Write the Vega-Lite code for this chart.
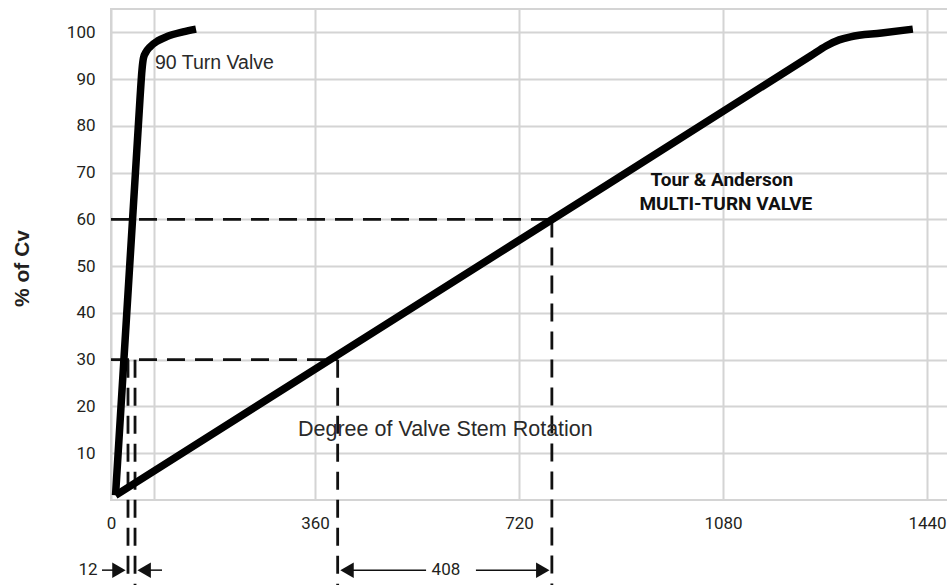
{
  "$schema": "https://vega.github.io/schema/vega-lite/v6.json",
  "width": 850,
  "height": 491,
  "autosize": "none",
  "padding": {"left": 111, "top": 9, "right": 0, "bottom": 85},
  "background": "white",
  "config": {
    "view": {"stroke": "#d4d4d4", "strokeWidth": 2},
    "font": "Liberation Sans"
  },
  "datasets": {
    "curves": [
      {"series": "90 Turn", "order": 1, "x": 8, "y": 1},
      {"series": "90 Turn", "order": 2, "x": 51, "y": 85.5},
      {"series": "90 Turn", "order": 3, "x": 54.7, "y": 92.0},
      {"series": "90 Turn", "order": 4, "x": 57.3, "y": 94.5},
      {"series": "90 Turn", "order": 5, "x": 61.8, "y": 95.8},
      {"series": "90 Turn", "order": 6, "x": 68.8, "y": 96.9},
      {"series": "90 Turn", "order": 7, "x": 82.9, "y": 98.2},
      {"series": "90 Turn", "order": 8, "x": 98.8, "y": 99.1},
      {"series": "90 Turn", "order": 9, "x": 127, "y": 100.1},
      {"series": "90 Turn", "order": 10, "x": 150, "y": 100.7},
      {"series": "Multi-Turn", "order": 1, "x": 8, "y": 1},
      {"series": "Multi-Turn", "order": 2, "x": 700, "y": 54.0},
      {"series": "Multi-Turn", "order": 3, "x": 1235, "y": 95.0},
      {"series": "Multi-Turn", "order": 4, "x": 1262, "y": 97.1},
      {"series": "Multi-Turn", "order": 5, "x": 1285, "y": 98.4},
      {"series": "Multi-Turn", "order": 6, "x": 1305, "y": 99.05},
      {"series": "Multi-Turn", "order": 7, "x": 1360, "y": 99.86},
      {"series": "Multi-Turn", "order": 8, "x": 1415, "y": 100.7}
    ],
    "dashed": [
      {"x": 0, "y": 60, "x2": 778, "y2": 60},
      {"x": 778, "y": 60, "x2": 778, "y2": -18.5},
      {"x": 0, "y": 30, "x2": 400, "y2": 30},
      {"x": 400, "y": 30, "x2": 400, "y2": -18.5},
      {"x": 42.4, "y": 30, "x2": 42.4, "y2": -18.5},
      {"x": 30, "y": 30, "x2": 30, "y2": -16}
    ],
    "shafts": [
      {"x": -15.9, "x2": 12.4, "y": -15},
      {"x": 61.8, "x2": 90, "y": -15},
      {"x": 422, "x2": 556, "y": -15},
      {"x": 644, "x2": 757, "y": -15}
    ],
    "heads": [
      {"x": 14.0, "y": -15, "dir": "right"},
      {"x": 58.5, "y": -15, "dir": "left"},
      {"x": 416.5, "y": -15, "dir": "left"},
      {"x": 762, "y": -15, "dir": "right"}
    ],
    "notes": [
      {"x": 77.6, "y": 93.5, "label": "90 Turn Valve"}
    ],
    "axisnote": [
      {"x": 330, "y": 15.0, "label": "Degree of Valve Stem Rotation"}
    ],
    "dims": [
      {"x": -40.6, "y": -15, "label": "12"},
      {"x": 591, "y": -15, "label": "408"}
    ],
    "brand": [
      {"x": 1078, "y": 68.4, "label": "Tour & Anderson"},
      {"x": 1085, "y": 63.3, "label": "MULTI-TURN VALVE"}
    ]
  },
  "encoding": {
    "x": {
      "field": "x", "type": "quantitative",
      "scale": {"domain": [0, 1500], "nice": false, "zero": false},
      "axis": {
        "values": [0, 76, 360, 720, 1080, 1440],
        "format": "d",
        "labelExpr": "datum.value == 76 ? '' : datum.label",
        "labelFlush": false,
        "grid": true, "gridColor": "#d4d4d4", "gridWidth": 2,
        "domain": false, "ticks": false,
        "labelPadding": 15, "labelFontSize": 17, "labelColor": "#231f20",
        "labelFont": "Roboto",
        "title": null
      }
    },
    "y": {
      "field": "y", "type": "quantitative",
      "scale": {"domain": [0, 105], "nice": false, "zero": false},
      "axis": {
        "values": [10, 20, 30, 40, 50, 60, 70, 80, 90, 100],
        "grid": true, "gridColor": "#d4d4d4", "gridWidth": 2,
        "domain": false, "ticks": false,
        "labelPadding": 16, "labelFontSize": 17, "labelColor": "#231f20",
        "labelFont": "Roboto",
        "title": "% of Cv",
        "titleFontSize": 21, "titleFontWeight": "bold", "titleColor": "#231f20",
        "titleX": -89, "titleY": 259, "titleAlign": "center", "titleBaseline": "middle", "titleAngle": -90
      }
    }
  },
  "layer": [
    {
      "data": {"name": "dashed"},
      "mark": {"type": "rule", "color": "#111", "strokeWidth": 2.8, "strokeDash": [18, 10]},
      "encoding": {
        "x2": {"field": "x2"},
        "y2": {"field": "y2"}
      }
    },
    {
      "data": {"name": "curves"},
      "mark": {"type": "line", "color": "black", "strokeWidth": 7.5, "interpolate": "monotone", "strokeJoin": "round"},
      "encoding": {
        "detail": {"field": "series"},
        "order": {"field": "order", "type": "quantitative"}
      }
    },
    {
      "data": {"name": "shafts"},
      "mark": {"type": "rule", "color": "#111", "strokeWidth": 1.5},
      "encoding": {
        "x2": {"field": "x2"}
      }
    },
    {
      "data": {"name": "heads"},
      "mark": {"type": "point", "filled": true, "color": "#111", "opacity": 1, "size": 240},
      "encoding": {
        "shape": {
          "field": "dir", "type": "nominal",
          "scale": {"domain": ["left", "right"], "range": ["triangle-left", "triangle-right"]},
          "legend": null
        }
      }
    },
    {
      "data": {"name": "notes"},
      "mark": {"type": "text", "align": "left", "baseline": "middle", "fontSize": 19.5, "color": "#2a2a2a", "font": "Liberation Sans"},
      "encoding": {"text": {"field": "label"}}
    },
    {
      "data": {"name": "axisnote"},
      "mark": {"type": "text", "align": "left", "baseline": "middle", "fontSize": 21.5, "color": "#2a2a2a", "font": "Liberation Sans"},
      "encoding": {"text": {"field": "label"}}
    },
    {
      "data": {"name": "dims"},
      "mark": {"type": "text", "align": "center", "baseline": "middle", "fontSize": 17, "color": "#231f20", "font": "Roboto"},
      "encoding": {"text": {"field": "label"}}
    },
    {
      "data": {"name": "brand"},
      "mark": {"type": "text", "align": "center", "baseline": "middle", "fontSize": 19, "fontWeight": "bold", "color": "#111", "font": "Roboto"},
      "encoding": {"text": {"field": "label"}}
    }
  ]
}
